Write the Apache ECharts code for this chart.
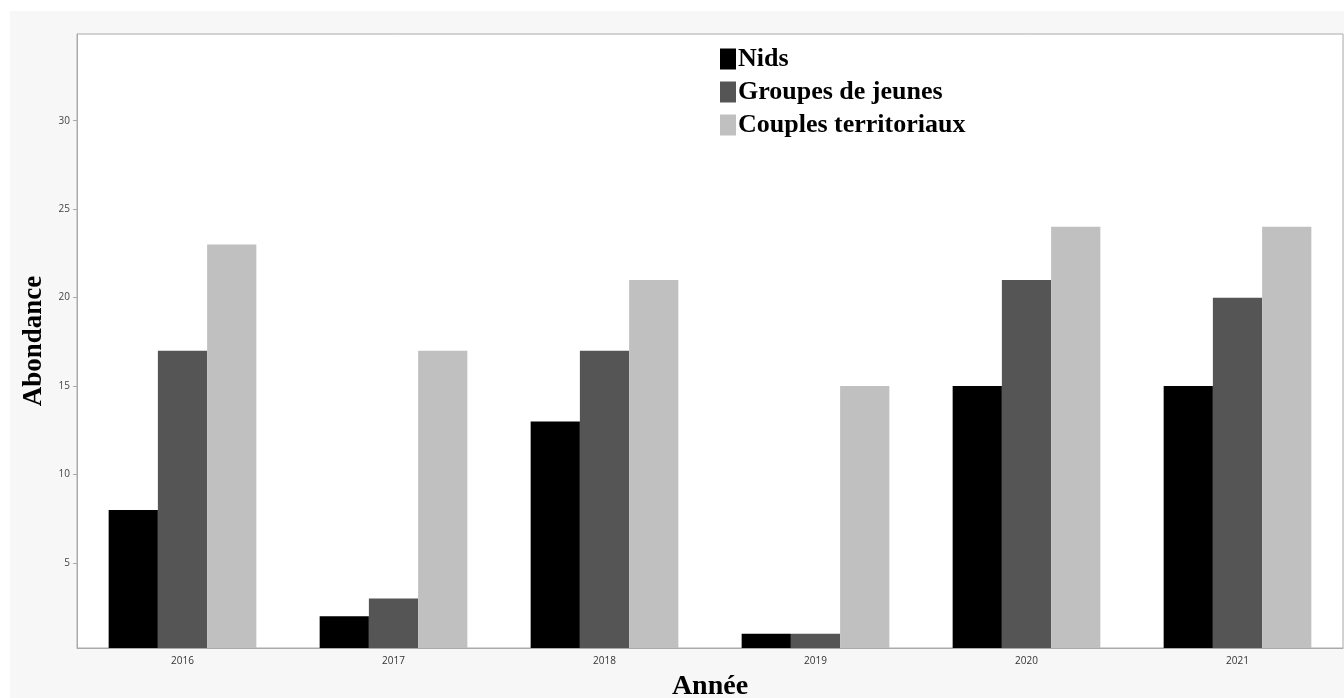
<!DOCTYPE html>
<html>
<head>
<meta charset="utf-8">
<script src="https://cdn.jsdelivr.net/npm/echarts@6/dist/echarts.min.js"></script>
<style>
html,body{margin:0;padding:0;background:#ffffff;}
#bg{position:absolute;left:10px;top:11px;right:0;bottom:0;background:#f7f7f7;}
#chart{position:absolute;left:0;top:0;width:1344px;height:698px;}
</style>
</head>
<body>
<div id="bg"></div>
<div id="chart"></div>
<script>
const categories = ['2016', '2017', '2018', '2019', '2020', '2021'];
const nids = [8, 2, 13, 1, 15, 15];
const groupesJeunes = [17, 3, 17, 1, 21, 20];
const couplesTerritoriaux = [23, 17, 21, 15, 24, 24];
const yTicks = [5, 10, 15, 20, 25, 30];

const chart = echarts.init(document.getElementById('chart'), null, {renderer: 'canvas'});
const serif = '"Liberation Serif", "Times New Roman", serif';
const sans = '"Open Sans", "Noto Sans", sans-serif';

chart.setOption({
  backgroundColor: 'transparent',
  animation: false,
  grid: {
    left: 77, top: 34, right: 1, bottom: 50,
    outerBoundsMode: 'none', containLabel: false,
    show: true, backgroundColor: '#ffffff', borderColor: '#aaaaaa', borderWidth: 1
  },
  legend: {
    orient: 'vertical',
    left: 715, top: 41,
    icon: 'rect',
    itemWidth: 16, itemHeight: 21,
    itemGap: 7,
    textStyle: {
      fontFamily: serif, fontWeight: 'bold', fontSize: 26, color: '#000',
      padding: [0, 0, 0, -3]
    },
    data: ['Nids', 'Groupes de jeunes', 'Couples territoriaux']
  },
  xAxis: {
    type: 'category',
    data: categories,
    name: 'Année',
    nameLocation: 'middle',
    nameGap: 25,
    nameTextStyle: {fontFamily: serif, fontWeight: 'bold', fontSize: 28, color: '#000'},
    axisLine: {lineStyle: {color: '#aaaaaa'}},
    axisTick: {alignWithLabel: true, length: 5, lineStyle: {color: '#aaaaaa'}},
    axisLabel: {fontFamily: sans, fontSize: 10, color: '#333', margin: 8},
    splitLine: {show: false}
  },
  yAxis: {
    type: 'value',
    min: 0.2, max: 34.9,
    name: 'Abondance',
    nameLocation: 'middle',
    nameGap: 17,
    nameTextStyle: {fontFamily: serif, fontWeight: 'bold', fontSize: 27, color: '#000'},
    axisLine: {show: true, lineStyle: {color: '#aaaaaa'}},
    axisTick: {show: true, length: 4, customValues: yTicks, lineStyle: {color: '#aaaaaa'}},
    axisLabel: {fontFamily: sans, fontSize: 10, color: '#444', margin: 7, customValues: yTicks},
    splitLine: {show: false}
  },
  series: [
    {name: 'Nids', type: 'bar', data: nids, barGap: '0%', barCategoryGap: '30%',
     itemStyle: {color: '#000000'}},
    {name: 'Groupes de jeunes', type: 'bar', data: groupesJeunes, barGap: '0%', barCategoryGap: '30%',
     itemStyle: {color: '#555555'}},
    {name: 'Couples territoriaux', type: 'bar', data: couplesTerritoriaux, barGap: '0%', barCategoryGap: '30%',
     itemStyle: {color: '#c0c0c0'}}
  ]
});
</script>
</body>
</html>
